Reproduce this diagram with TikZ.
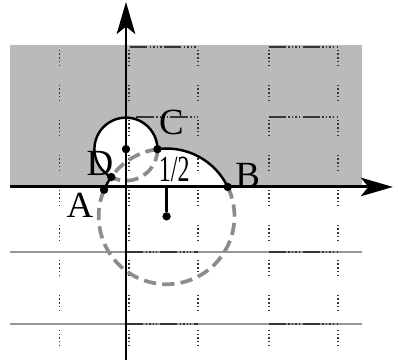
\documentclass[tikz,border=0pt]{standalone}
\usepackage{fontspec}
\setmainfont{Liberation Serif}
\usetikzlibrary{arrows.meta,positioning}
\definecolor{lcshade}{RGB}{186,186,186}
\definecolor{lcgrid}{RGB}{150,150,150}
\definecolor{lcdark}{RGB}{55,55,55}
\definecolor{lcring}{RGB}{140,140,140}
\tikzset{
  lcaxis/.style={-{Stealth[length=13pt,width=7.5pt,inset=3pt]}, line width=1.2pt},
  lcrim/.style={line width=1pt},
  lcring/.style={draw=lcring, line width=1.5pt, dash pattern=on 5pt off 2.5pt},
  lcvgrid/.style={draw=lcdark, line width=0.7pt,
    dash pattern=on 0.6pt off 0.9pt on 0.6pt off 0.9pt on 0.6pt off 0.9pt on 0.6pt off 0.9pt on 0.6pt off 7.63pt},
  lchgrid/.style={draw=lcdark, line width=1pt,
    dash pattern=on 7pt off 1pt on 0.6pt off 0.8pt on 0.6pt off 0.8pt on 0.6pt off 0.8pt on 0.6pt off 1pt},
  lcdot/.style={circle, fill=black, inner sep=0pt, minimum size=3.4pt},
  lclabel/.style={inner sep=0pt, font=\fontsize{15}{15}\selectfont}
}
\begin{document}
\begin{tikzpicture}
  \useasboundingbox (-1.8,-2.529) rectangle (3.886,2.671);
  % points
  \coordinate (cP) at (0,0.54);
  \coordinate (cM) at (0.58,-0.42);
  \coordinate (cF) at (0.58,0);
  \coordinate (cA) at (-0.313,-0.041);
  \coordinate (cB) at (1.454,0);
  \coordinate (cC) at (0.45,0.54);
  \coordinate (cD) at (-0.2096,0.1418);
  \coordinate (xL) at (-1.657,0);
  \coordinate (xR) at (3.814,0);
  \coordinate (yB) at (0,-2.47);
  \coordinate (yT) at (0,2.643);
  % half plane
  \fill[lcshade] (xL) rectangle (3.371,2.029);
  \fill[white] (cA) arc[start angle=157,end angle=144.57,radius=0.97]
    arc[start angle=242.24,end angle=0,radius=0.45]
    arc[start angle=97.71,end angle=25.66,radius=0.97] -- cycle;
  % grid
  \foreach \gy in {-0.93,-1.96}
    \draw[lcgrid, line width=0.7pt] (-1.657,\gy) -- (3.371,\gy);
  \foreach \gy/\gs in {2.0/0.06, 1.0/0.15, -0.93/0, -1.96/0} {
    \draw[lchgrid] (\gs,\gy) -- (1.03,\gy);
    \draw[lchgrid] (2.04,\gy) -- (3.03,\gy);
  }
  \foreach \gx in {-0.95,0.04,1.03,2.04,3.03}
    \draw[lcvgrid] (\gx,1.96) -- (\gx,-2.32);
  % circles
  \draw[lcring] (cC) arc[start angle=0,end angle=-117.76,radius=0.45];
  \draw[lcring] (cC) arc[start angle=97.71,end angle=144.57,radius=0.97];
  \draw[lcring] (cB) arc[start angle=25.66,end angle=-203,radius=0.97];
  \draw[lcrim] (cA) arc[start angle=157,end angle=144.57,radius=0.97]
    arc[start angle=242.24,end angle=0,radius=0.45]
    arc[start angle=97.71,end angle=25.66,radius=0.97];
  % axes
  \draw[lcaxis] (xL) -- (xR);
  \draw[lcaxis] (yB) -- (yT);
  % dots
  \node[lcdot] (dA) at (cA) {};
  \node[lcdot] (dB) at (cB) {};
  \node[lcdot] (dC) at (cC) {};
  \node[lcdot] (dD) at (cD) {};
  \node[lcdot] (dP) at (cP) {};
  \node[lcdot] (dM) at (cM) {};
  \draw[line width=1.1pt] (dM) -- (cF);
  % labels
  \node[lclabel] (lA) at (-0.657cm,-0.257cm) {A};
  \node[lclabel] (lB) at (1.74cm,0.17cm) {B};
  \node[lclabel] (lC) at (0.65cm,0.92cm) {C};
  \node[lclabel] (lD) at (-0.371cm,0.329cm) {D};
  \node[lclabel] (lHalf) at (0.69cm,0.25cm) {\scalebox{0.65}[1]{1/2}};
\end{tikzpicture}
\end{document}
